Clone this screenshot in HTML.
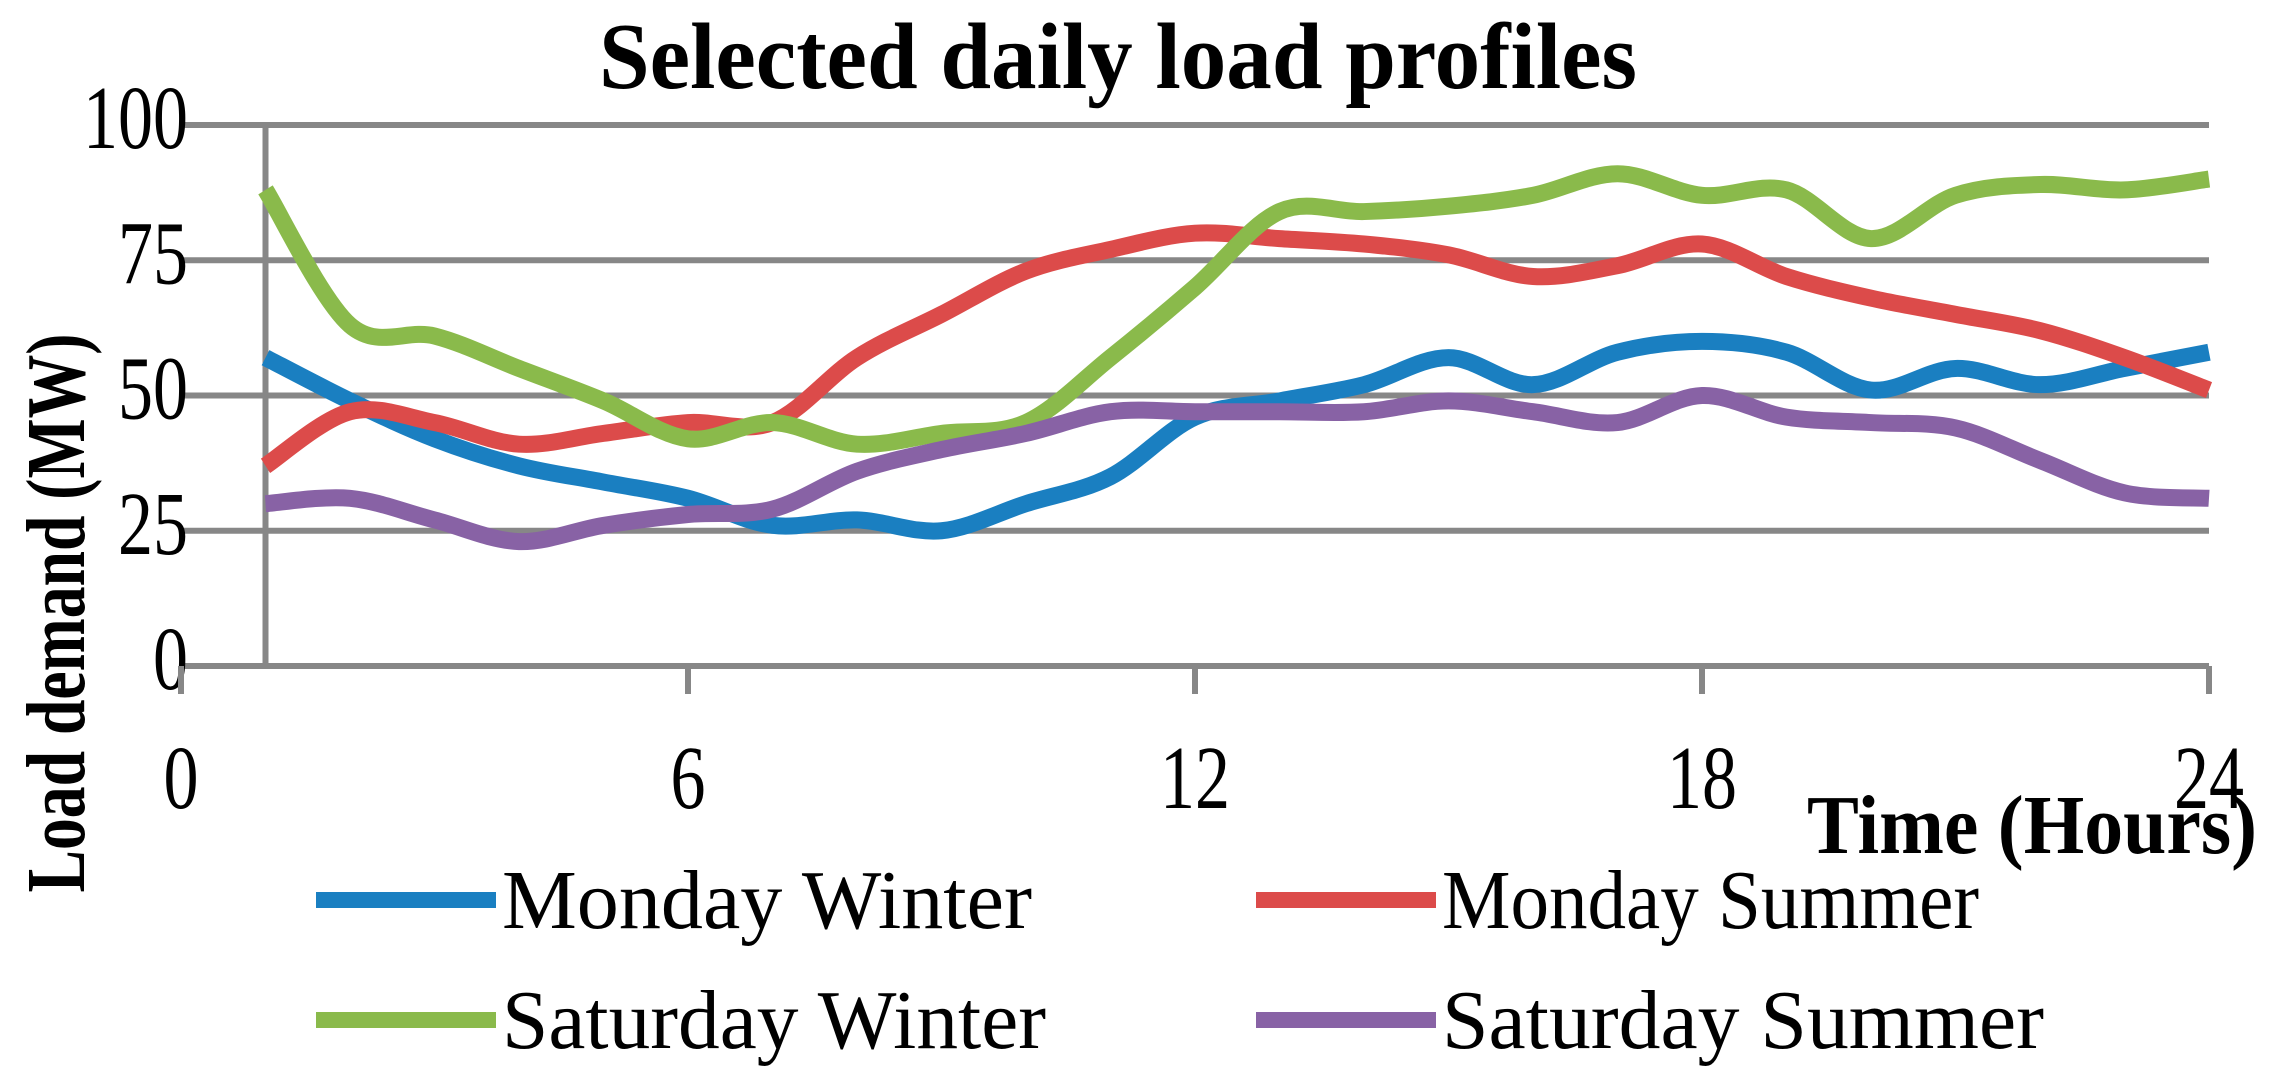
<!DOCTYPE html>
<html><head><meta charset="utf-8"><style>
html,body{margin:0;padding:0;background:#fff;}
svg{display:block;}
text{font-family:"Liberation Serif",serif;fill:#000;}
</style></head><body>
<svg id="chart" width="2276" height="1088" viewBox="0 0 2276 1088" xmlns="http://www.w3.org/2000/svg">
<text x="1118" y="88" font-size="94" font-weight="bold" text-anchor="middle" textLength="1038" lengthAdjust="spacingAndGlyphs">Selected daily load profiles</text>
<g id="grid"></g>
<g id="axes"></g>
<g id="series"></g>
<text transform="translate(84,613) rotate(-90)" font-size="84" font-weight="bold" text-anchor="middle" textLength="559" lengthAdjust="spacingAndGlyphs">Load demand (MW)</text>
<text x="2257" y="853" font-size="84" font-weight="bold" text-anchor="end" textLength="450" lengthAdjust="spacingAndGlyphs">Time (Hours)</text>
<g id="legend"></g>
</svg>
<script>
const hours = [1,2,3,4,5,6,7,8,9,10,11,12,13,14,15,16,17,18,19,20,21,22,23,24];
const mondayWinter = [57,49,42,37,34,31,26,27,25,30,35,46,49,52,57,52,58,60,58,51,55,52,55,58];
const mondaySummer = [37,47,45,41,43,45,45,57,65,73,77,80,79,78,76,72,74,78,72,68,65,62,57,51];
const saturdayWinter = [88,63,61,55,49,42,45,41,43,45,57,70,84,84,85,87,91,87,88,79,87,89,88,90];
const saturdaySummer = [30,31,27,23,26,28,29,36,40,43,47,47,47,47,49,47,45,50,46,45,44,38,32,31];
const seriesNames = ["Monday Winter","Monday Summer","Saturday Winter","Saturday Summer"];
const yTicks = [0,25,50,75,100];
const xTicks = [0,6,12,18,24];

const NS="http://www.w3.org/2000/svg";
const X0=181,X1=2209,Y0=666,Y1=125;
const xs=h=>X0+(X1-X0)*h/24;
const ys=v=>Y0-(Y0-Y1)*v/100;
function mk(tag,parent,attrs){const e=document.createElementNS(NS,tag);for(const k in attrs)e.setAttribute(k,attrs[k]);parent.appendChild(e);return e;}
const grid=document.getElementById('grid'),axes=document.getElementById('axes'),ser=document.getElementById('series'),leg=document.getElementById('legend');
yTicks.forEach(v=>{
  const l=mk('line',grid,{x1:X0,x2:X1,y1:ys(v),y2:ys(v),stroke:'#878787','stroke-width':6});
  
  
  const s=String(v);
  const t=mk('text',axes,{x:188,y:ys(v)+23,'font-size':90,'text-anchor':'end',textLength:35*s.length,lengthAdjust:'spacingAndGlyphs'});
  t.textContent=s;
  
  
});
const va=mk('line',axes,{x1:xs(1),x2:xs(1),y1:Y1,y2:Y0+3,stroke:'#878787','stroke-width':6});


xTicks.forEach(h=>{
  const l=mk('line',axes,{x1:xs(h),x2:xs(h),y1:Y0,y2:694,stroke:'#878787','stroke-width':6});
  
  
  const s=String(h);
  const t=mk('text',axes,{x:xs(h),y:808,'font-size':90,'text-anchor':'middle',textLength:35*s.length,lengthAdjust:'spacingAndGlyphs'});
  t.textContent=s;
  
  
});
function smooth(pts){
  let d='M'+pts[0][0]+','+pts[0][1];
  for(let i=0;i<pts.length-1;i++){
    const p0=pts[i-1]||pts[i],p1=pts[i],p2=pts[i+1],p3=pts[i+2]||p2;
    const c1=[p1[0]+(p2[0]-p0[0])/6,p1[1]+(p2[1]-p0[1])/6];
    const c2=[p2[0]-(p3[0]-p1[0])/6,p2[1]-(p3[1]-p1[1])/6];
    d+=' C'+c1+' '+c2+' '+p2;
  }
  return d;
}
const data=[mondayWinter,mondaySummer,saturdayWinter,saturdaySummer];
const colors=['#1a7fc1','#dc4b4a','#8aba4b','#8862a5'];
const keys=['monday-winter','monday-summer','saturday-winter','saturday-summer'];
data.forEach((arr,i)=>{
  const p=mk('path',ser,{d:smooth(arr.map((v,j)=>[xs(hours[j]),ys(v)])),fill:'none',stroke:colors[i],'stroke-width':17,'stroke-linejoin':'round'});
  
  
});
const legPos=[[316,900],[1256,900],[316,1020],[1256,1020]];
const legW=[530,537,544,602];
seriesNames.forEach((n,i)=>{
  const [lx,ly]=legPos[i];
  const g=mk('g',leg,{});
  
  
  mk('line',g,{x1:lx,x2:lx+180,y1:ly,y2:ly,stroke:colors[i],'stroke-width':16});
  const t=mk('text',g,{x:lx+186,y:ly+28,'font-size':84,textLength:legW[i],lengthAdjust:'spacingAndGlyphs'});
  t.textContent=n;
});
</script>
</body></html>
